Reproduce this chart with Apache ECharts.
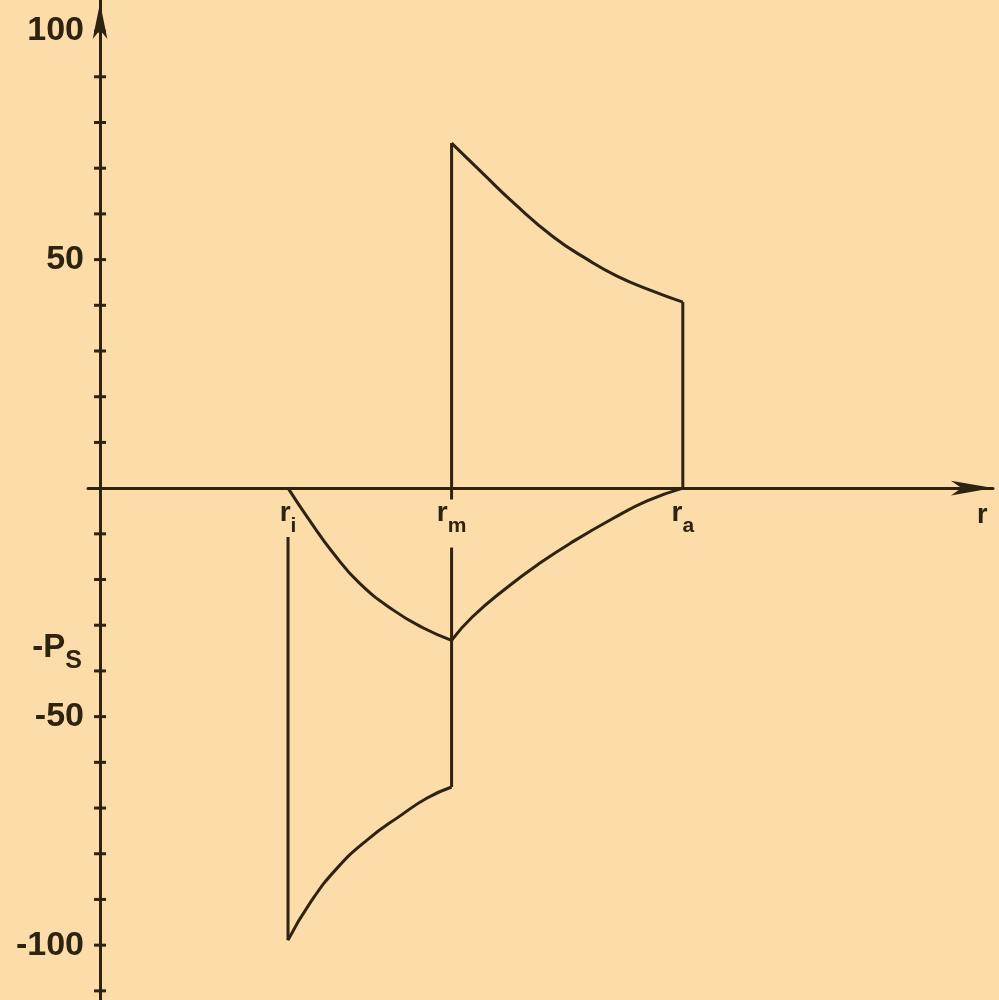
<!DOCTYPE html>
<html>
<head>
<meta charset="utf-8">
<script src="https://cdn.jsdelivr.net/npm/echarts@6/dist/echarts.min.js"></script>
<style>
  html, body { margin: 0; padding: 0; background: #fcdca8; }
  #chart { width: 999px; height: 1000px; }
</style>
</head>
<body>
<div id="chart"></div>
<script>
// Radii (normalised to the inner radius r_i)
const rI = 1.0;
const rM = 1.87;
const rA = 3.10;

// Pressure value p_s at the shrink-fit interface
const pS = 33.3;

// Tangential stress, outer ring (r_m .. r_a)
const outerTangR = [1.87, 2.04, 2.20, 2.41, 2.59, 2.75, 2.94, 3.10];
const outerTangS = [75.5, 68.7, 62.4, 55.0, 50.1, 46.4, 43.1, 40.7];

// Radial stress, inner ring (r_i .. r_m)
const innerRadR = [1.0, 1.12, 1.24, 1.38, 1.56, 1.72, 1.87];
const innerRadS = [0, -7.4, -14.2, -20.8, -26.7, -30.6, -33.3];

// Radial stress, outer ring (r_m .. r_a)
const outerRadR = [1.87, 1.98, 2.16, 2.34, 2.52, 2.73, 2.91, 3.10];
const outerRadS = [-33.3, -28.2, -21.9, -16.4, -11.6, -6.6, -2.8, 0];

// Tangential stress, inner ring (r_i .. r_m)
const innerTangR = [1.0, 1.12, 1.26, 1.42, 1.60, 1.74, 1.87];
const innerTangS = [-98.9, -90.6, -83.2, -77.0, -71.6, -67.8, -65.4];

// Vertical jumps at the ring boundaries (broken where the radius labels sit)
const jumpRi = [-10.7, -98.9];
const jumpRmUpper = [75.5, -2.5];
const jumpRmLower = [-13, -65.4];
const jumpRa = [40.7, 0];

// Stress axis: tick marks and labelled ticks
const yTicks = [100, 90, 80, 70, 60, 50, 40, 30, 20, 10, -10, -20, -30, -40, -50, -60, -70, -80, -90, -100, -110];
const yLabelValues = [100, 50, -50, -100];
// Labelled radii on the r axis
const rLabelValues = [rI, rM, rA];
const rLabelSubs = ['i', 'm', 'a'];

const ink = '#2e2210';
const font = 'Liberation Sans';
const zip = (xs, ys) => xs.map((x, i) => [x, ys[i]]);

function curve(xs, ys) {
  return {
    type: 'line', data: zip(xs, ys), smooth: 0.5,
    showSymbol: false, lineStyle: { color: ink, width: 3 }, z: 3, silent: true
  };
}
function vertical(r, ends) {
  return {
    type: 'line', data: [[r, ends[0]], [r, ends[1]]],
    showSymbol: false, lineStyle: { color: ink, width: 3 }, z: 3, silent: true
  };
}

const chart = echarts.init(document.getElementById('chart'));
chart.setOption({
  backgroundColor: '#fcdca8',
  animation: false,
  grid: { left: 88, right: 6, top: 0, bottom: 0, containLabel: false },
  xAxis: {
    type: 'value', min: -0.064, max: 4.75,
    splitLine: { show: false },
    axisTick: { show: false },
    axisLabel: { show: false },
    axisLine: {
      onZero: true,
      lineStyle: { color: ink, width: 3 },
      symbol: ['none', 'arrow'], symbolSize: [11, 42], symbolOffset: [0, 0]
    },
    name: 'r', nameLocation: 'end', nameGap: -16,
    nameTextStyle: {
      color: ink, fontSize: 27, fontWeight: 'bold', fontFamily: font,
      verticalAlign: 'top', padding: [14, 0, 0, 0]
    }
  },
  yAxis: {
    type: 'value', min: -112, max: 106.8,
    splitLine: { show: false },
    axisLine: {
      onZero: true, lineStyle: { color: ink, width: 3 },
      symbol: ['none', 'arrow'], symbolSize: [11, 36], symbolOffset: [0, -3]
    },
    axisTick: { show: false },
    axisLabel: {
      customValues: yLabelValues,
      margin: 4, color: ink, fontSize: 34, fontWeight: 'bold', fontFamily: font,
      formatter: (v) => String(v)
    }
  },
  series: [
    curve(outerTangR, outerTangS),
    curve(innerRadR, innerRadS),
    curve(outerRadR, outerRadS),
    curve(innerTangR, innerTangS),
    vertical(rI, jumpRi),
    vertical(rM, jumpRmUpper),
    vertical(rM, jumpRmLower),
    vertical(rA, jumpRa),
    {
      // cross ticks on the stress axis
      type: 'scatter', data: yTicks.map(v => [0, v]),
      symbol: 'rect', symbolSize: [12, 3], itemStyle: { color: ink, opacity: 1 },
      silent: true, z: 4
    },
    {
      // radius labels under the r axis
      type: 'scatter', data: rLabelValues.map((r, i) => ({ value: [r, 0], sub: rLabelSubs[i] })),
      symbolSize: 0, itemStyle: { color: ink, opacity: 1 }, silent: true, z: 4,
      label: {
        show: true, position: 'bottom', distance: 11, color: ink, opacity: 1,
        formatter: (p) => '{r|r}{s|' + p.data.sub + '}',
        rich: {
          r: { fontSize: 28, fontWeight: 'bold', fontFamily: font, color: ink, verticalAlign: 'top', lineHeight: 38 },
          s: { fontSize: 21, fontWeight: 'bold', fontFamily: font, color: ink, verticalAlign: 'bottom', lineHeight: 38 }
        }
      }
    },
    {
      // -p_s marker on the stress axis
      type: 'scatter', data: [[0, -pS]], symbolSize: 0,
      itemStyle: { color: ink, opacity: 1 }, silent: true, z: 4,
      label: {
        show: true, position: 'left', distance: 18, offset: [0, 12], color: ink, opacity: 1,
        formatter: '{p|-P}{s|S}',
        rich: {
          p: { fontSize: 33, fontWeight: 'bold', fontFamily: font, color: ink, verticalAlign: 'top', lineHeight: 42 },
          s: { fontSize: 25, fontWeight: 'bold', fontFamily: font, color: ink, verticalAlign: 'bottom', lineHeight: 42 }
        }
      }
    }
  ]
});
</script>
</body>
</html>
